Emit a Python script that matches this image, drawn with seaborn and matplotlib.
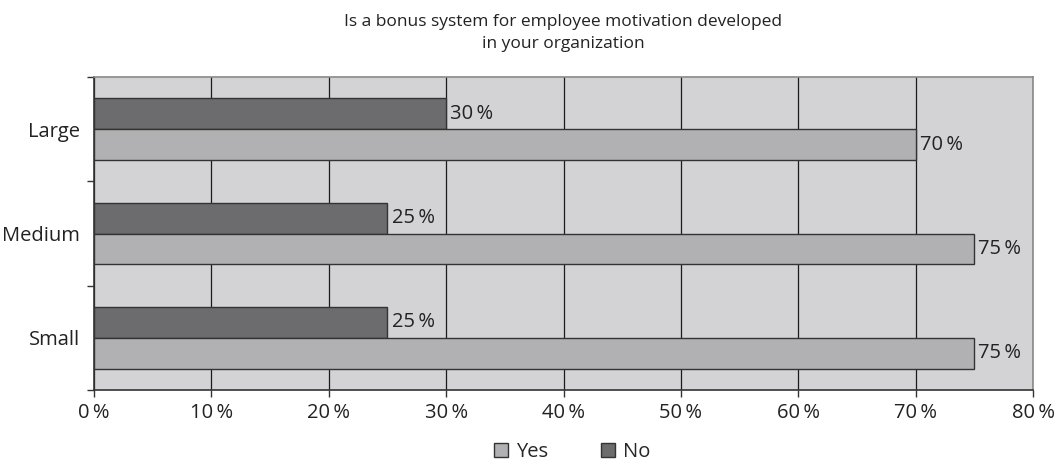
import matplotlib
matplotlib.use("Agg")
import matplotlib.pyplot as plt
import seaborn as sns
import pandas as pd
from matplotlib.patches import Patch

categories = ["Large", "Medium", "Small"]
yes_values = [70, 75, 75]
no_values = [30, 25, 25]
xticks = [0, 10, 20, 30, 40, 50, 60, 70, 80]

df = pd.DataFrame({
    "Size": categories * 2,
    "Answer": ["Yes"] * 3 + ["No"] * 3,
    "Value": yes_values + no_values,
})

sns.set_theme(style="white")
plt.rcParams['font.family'] = ['Open Sans', 'DejaVu Sans']

c_bg = "#d3d3d5"
c_yes = "#b1b1b3"
c_no = "#6c6c6e"
fs = 14.5

fig = plt.figure(figsize=(10.61, 4.65), dpi=100)
ax = fig.add_axes([94/1061, 1 - 390/465, (1033-94)/1061, (390-77)/465])
ax.set_facecolor(c_bg)

sns.barplot(data=df, y="Size", x="Value", hue="Answer", order=categories,
            hue_order=["No", "Yes"], palette={"Yes": c_yes, "No": c_no},
            orient="h", width=0.59, edgecolor="#333333", linewidth=1.0,
            ax=ax, legend=False, zorder=3)

ax.set_xlim(0, 80)
ax.set_ylim(2.5, -0.5)
ax.set_xticks(xticks)
ax.set_xticklabels([f"{v}\u2009%" for v in xticks], fontsize=fs, color="#222222")
ax.xaxis.grid(True, color="#1a1a1a", linewidth=0.9, zorder=1)
ax.set_axisbelow(True)
ax.tick_params(axis="x", which="major", length=5, width=1, color="#333333", pad=4, bottom=True)
ax.tick_params(axis="y", which="major", length=0, pad=10, labelsize=fs, labelcolor="#222222")
ax.set_yticks([-0.5, 0.5, 1.5, 2.5], minor=True)
ax.tick_params(axis="y", which="minor", length=5, width=1, color="#333333", left=True)
ax.set_xlabel("")
ax.set_ylabel("")

for s in ["left", "bottom"]:
    ax.spines[s].set_color("#333333")
    ax.spines[s].set_linewidth(1.2)
for s in ["top", "right"]:
    ax.spines[s].set_color("#8a8a8a")
    ax.spines[s].set_linewidth(1.2)

for cont in ax.containers:
    ax.bar_label(cont, labels=[f"{int(v)}\u2009%" for v in cont.datavalues],
                 padding=3, fontsize=fs, color="#222222")

fig.text(563/1061, 1 - 33/465, "Is a bonus system for employee motivation developed\nin your organization",
         ha="center", va="center", fontsize=12.5, color="#222222", linespacing=1.5)

handles = [Patch(facecolor=c_yes, edgecolor="#333333", label="Yes"),
           Patch(facecolor=c_no, edgecolor="#333333", label="No")]
fig.legend(handles=handles, loc="center", bbox_to_anchor=(572/1061, 1 - 452/465), ncol=2,
           frameon=False, fontsize=fs, handlelength=0.7, handleheight=0.7,
           handletextpad=0.4, columnspacing=2.6)

fig.savefig("out.png", dpi=100)
